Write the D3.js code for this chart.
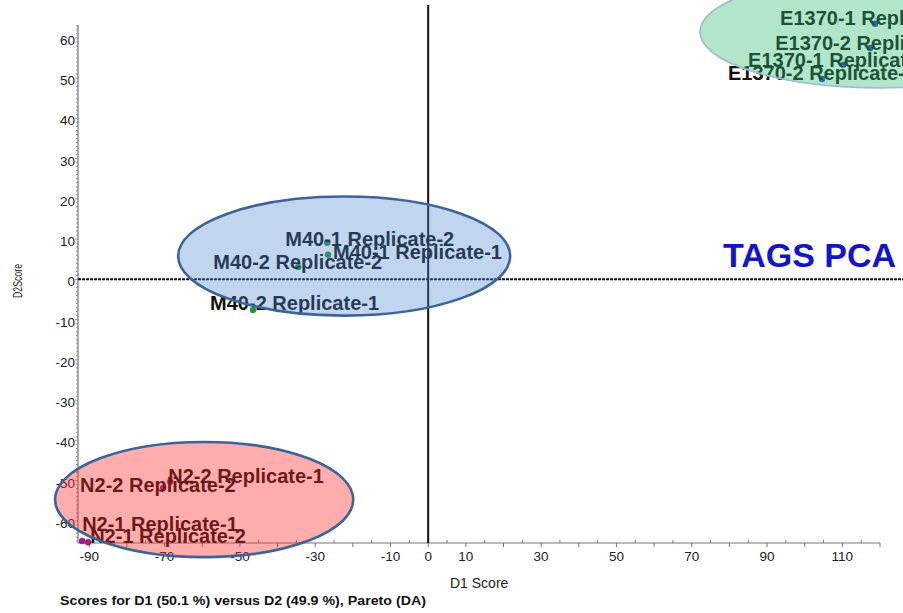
<!DOCTYPE html>
<html>
<head>
<meta charset="utf-8">
<script src="https://cdn.jsdelivr.net/npm/d3@7"></script>
<style>
  html, body { margin: 0; padding: 0; background: #fff; overflow: hidden; }
  svg { display: block; font-family: "Liberation Sans", Arial, sans-serif; }
</style>
</head>
<body>
<svg id="chart" width="903" height="613"></svg>
<script>
// Sample scores on the two discriminant components
const sampleNames = [
  "M40-1 Replicate-2", "M40-1 Replicate-1", "M40-2 Replicate-2", "M40-2 Replicate-1",
  "N2-2 Replicate-1", "N2-2 Replicate-2", "N2-1 Replicate-1", "N2-1 Replicate-2",
  "E1370-1 Replicate-1", "E1370-2 Replicate-1", "E1370-1 Replicate-2", "E1370-2 Replicate-2"
];
const sampleGroup = ["M40", "M40", "M40", "M40", "N2", "N2", "N2", "N2", "E1370", "E1370", "E1370", "E1370"];
const scoreD1 = [-26.8, -26.6, -34.5, -46.5, -68.5, -70.4, -91.9, -90.3, 118.7, 117.4, 110.2, 104.6];
const scoreD2 = [9.1, 6.1, 3.1, -7.6, -50.3, -51.8, -65.0, -65.3, 63.5, 57.5, 53.3, 49.8];

// Group confidence ellipses in score units: centre D1, centre D2, half-width, half-height
const groupNames = ["M40", "N2", "E1370"];
const ellipseD1 = [-22.3, -59.5, 120];
const ellipseD2 = [5.8, -54.7, 61.5];
const ellipseRD1 = [44.1, 39.6, 47.8];
const ellipseRD2 = [14.8, 14.3, 13.9];

// Axis ticks
const xTickLabels = [-90, -70, -50, -30, -10, 0, 10, 30, 50, 70, 90, 110];
const yTickLabels = [60, 50, 40, 30, 20, 10, 0, -10, -20, -30, -40, -50, -60];

// Label placement relative to each point (pixels)
const labelDx = [-42, 5, -85, -43, -2, -83, 0, 2, -95, -95, -95, -94];
const labelDy = [3, 4, 2, 0, 1, 4, -10, 1, 1, 2, 2, 1];

const dotColor = { M40: "#1f9a2a", N2: "#a01e8c", E1370: "#1b3ad6" };
const ellipseStyle = {
  M40:   { fill: "rgb(80,135,210)", op: 0.35, stroke: "#3c6597", sw: 2.6 },
  N2:    { fill: "rgb(255,40,40)",  op: 0.38, stroke: "#3c6597", sw: 2.6 },
  E1370: { fill: "rgb(50,190,115)", op: 0.38, stroke: "#9fbfcc", sw: 1.8 }
};

const svg = d3.select("#chart");
const x = d3.scaleLinear().domain([-93, 120]).range([78, 880]);
const y = d3.scaleLinear().domain([-65.5, 63.2]).range([543, 25]);

// Axes
const axisColor = "#777";
const xAxisG = svg.append("g").attr("transform", `translate(0,${y.range()[0]})`);
xAxisG.append("line").attr("x1", x.range()[0]).attr("x2", x.range()[1])
  .attr("stroke", axisColor).attr("stroke-width", 1.2);
const xMinor = d3.range(-90, 121, 5);
xAxisG.selectAll("line.tk").data(xMinor).join("line").attr("class", "tk")
  .attr("x1", d => x(d)).attr("x2", d => x(d))
  .attr("y1", d => d % 10 === 0 ? 0 : -3).attr("y2", d => d % 10 === 0 ? 4 : 0)
  .attr("stroke", axisColor).attr("stroke-width", 1);
xAxisG.selectAll("text").data(xTickLabels).join("text")
  .attr("x", d => x(d)).attr("y", 18)
  .attr("text-anchor", "middle").attr("font-size", 13.5).attr("fill", "#222")
  .text(d => d);

const yAxisG = svg.append("g").attr("transform", `translate(${x.range()[0]},0)`);
yAxisG.append("line").attr("y1", y.range()[0]).attr("y2", y.range()[1])
  .attr("stroke", axisColor).attr("stroke-width", 1.2);
const yMinor = d3.range(-65, 64, 1);
yAxisG.selectAll("line.tk").data(yMinor).join("line").attr("class", "tk")
  .attr("y1", d => y(d)).attr("y2", d => y(d))
  .attr("x1", d => d % 10 === 0 ? -3 : -2).attr("x2", 0)
  .attr("stroke", "#888").attr("stroke-width", 0.9);
yAxisG.selectAll("text").data(yTickLabels).join("text")
  .attr("x", -3).attr("y", d => y(d) + 7)
  .attr("text-anchor", "end").attr("font-size", 13.5).attr("fill", "#222")
  .text(d => d);

// Zero reference lines
svg.append("line")
  .attr("x1", x.range()[0]).attr("x2", 903).attr("y1", y(0)).attr("y2", y(0))
  .attr("stroke", "#111").attr("stroke-width", 2).attr("stroke-dasharray", "3,1");
svg.append("line")
  .attr("x1", x(0)).attr("x2", x(0)).attr("y1", 5).attr("y2", y.range()[0])
  .attr("stroke", "#111").attr("stroke-width", 2);

// Axis titles
svg.append("text").attr("x", 450).attr("y", 588).attr("font-size", 14).attr("fill", "#222")
  .text("D1 Score");
svg.append("text").attr("transform", "translate(22,281) rotate(-90)")
  .attr("text-anchor", "middle").attr("font-size", 12).attr("fill", "#222")
  .attr("textLength", 34).attr("lengthAdjust", "spacingAndGlyphs")
  .text("D2Score");
svg.append("text").attr("x", 60).attr("y", 605).attr("font-size", 13.5).attr("font-weight", "bold")
  .attr("fill", "#111").attr("textLength", 366).attr("lengthAdjust", "spacingAndGlyphs")
  .text("Scores for D1 (50.1 %) versus D2 (49.9 %), Pareto (DA)");

// Points and sample labels
const samples = sampleNames.map((name, i) => ({
  name, group: sampleGroup[i], d1: scoreD1[i], d2: scoreD2[i], dx: labelDx[i], dy: labelDy[i]
}));
svg.append("g").selectAll("circle").data(samples).join("circle")
  .attr("cx", d => x(d.d1)).attr("cy", d => y(d.d2)).attr("r", 3.2)
  .attr("fill", d => dotColor[d.group]);
svg.append("g").selectAll("text").data(samples).join("text")
  .attr("x", d => x(d.d1) + d.dx).attr("y", d => y(d.d2) + d.dy)
  .attr("font-size", 20).attr("font-weight", "bold").attr("fill", "#111")
  .text(d => d.name);

// Group ellipses drawn over the samples
const ellipses = groupNames.map((g, i) => ({
  group: g, cx: ellipseD1[i], cy: ellipseD2[i], rx: ellipseRD1[i], ry: ellipseRD2[i]
}));
svg.append("g").selectAll("ellipse").data(ellipses).join("ellipse")
  .attr("cx", d => x(d.cx)).attr("cy", d => y(d.cy))
  .attr("rx", d => x(d.rx) - x(0)).attr("ry", d => y(0) - y(d.ry))
  .attr("fill", d => ellipseStyle[d.group].fill)
  .attr("fill-opacity", d => ellipseStyle[d.group].op)
  .attr("stroke", d => ellipseStyle[d.group].stroke)
  .attr("stroke-width", d => ellipseStyle[d.group].sw);

// Title
svg.append("text").attr("x", 723).attr("y", 267)
  .attr("font-size", 34).attr("font-weight", "bold").attr("fill", "#1414c8")
  .text("TAGS PCA");
</script>
</body>
</html>
